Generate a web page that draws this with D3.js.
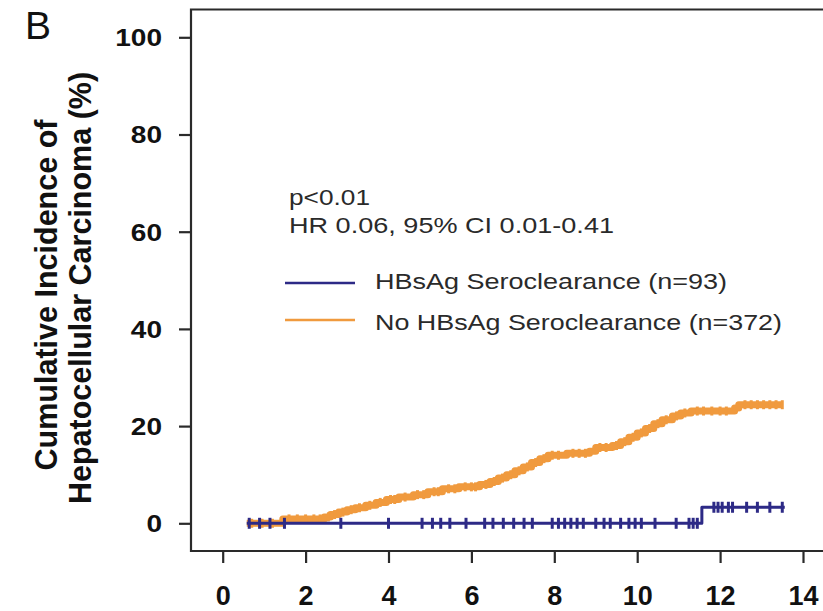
<!DOCTYPE html>
<html><head><meta charset="utf-8">
<script src="https://cdn.jsdelivr.net/npm/d3@7"></script>
<style>body{margin:0;background:#fff;} svg{display:block;font-family:"Liberation Sans",Arial,sans-serif;}</style>
</head><body>
<script>
// ---- data ----
const xTicks = [0, 2, 4, 6, 8, 10, 12, 14];
const yTicks = [0, 20, 40, 60, 80, 100];
const seriesNames = ["HBsAg Seroclearance (n=93)", "No HBsAg Seroclearance (n=372)"];
// step curve: times and cumulative incidence (%)
const clearTimes  = [0.58, 11.56, 13.56];
const clearValues = [0, 3.3, 3.3];
const clearCensor = [0.64, 0.89, 1.14, 1.49, 2.85, 4.0, 4.81, 5.06, 5.26, 5.48, 5.87, 6.32, 6.52, 6.77, 7.02, 7.27, 7.47,
  7.95, 8.1, 8.25, 8.4, 8.55, 8.7, 9.0, 9.2, 9.35, 9.6, 9.8, 9.95, 10.1, 10.43, 10.94, 11.25, 11.35, 11.45,
  11.85, 11.95, 12.05, 12.2, 12.3, 12.64, 12.9, 13.2, 13.5];
const noClearTimes  = [0.58, 1.45, 2.45, 2.6, 2.8, 3.0, 3.2, 3.45, 3.7, 3.95, 4.25, 4.6, 4.95, 5.3, 5.7, 6.2, 6.45, 6.65, 6.85,
  7.05, 7.25, 7.45, 7.65, 7.85, 8.3, 8.85, 9.0, 9.4, 9.6, 9.8, 10.0, 10.2, 10.4, 10.6, 10.85, 11.05, 11.3, 12.35, 12.45, 13.5];
const noClearValues = [0, 0.9, 1.3, 1.8, 2.3, 2.8, 3.2, 3.7, 4.3, 4.9, 5.4, 5.9, 6.5, 7.1, 7.5, 8.0, 8.6, 9.3, 10.0,
  10.8, 11.6, 12.5, 13.3, 14.0, 14.4, 14.8, 15.6, 16.0, 16.8, 17.7, 18.6, 19.5, 20.5, 21.3, 22.1, 22.7, 23.1, 23.7, 24.4, 24.4];
const noClearCensor = [0.7, 0.95, 1.2, 1.6, 1.8, 2.0, 2.2, 2.35, 2.55, 2.7, 2.9, 3.1, 3.3, 3.55, 3.8, 4.05, 4.15, 4.4, 4.7,
  4.85, 5.1, 5.2, 5.45, 5.6, 5.85, 6.0, 6.1, 6.35, 6.55, 6.75, 6.95, 7.15, 7.35, 7.55, 7.75, 7.95, 8.1, 8.45, 8.6, 8.75,
  9.1, 9.25, 9.5, 9.7, 9.9, 10.1, 10.3, 10.5, 10.7, 10.95, 11.15, 11.45, 11.6, 11.8, 12.0, 12.15, 12.6, 12.75, 12.9, 13.05, 13.2, 13.35, 13.5];
const annotation = ["p<0.01", "HR 0.06, 95% CI 0.01-0.41"];
const panelLabel = "B";
const yTitle = ["Cumulative Incidence of", "Hepatocellular Carcinoma (%)"];

// ---- layout ----
const W = 823, H = 611;
const blue = "#2d2a86", orange = "#f09a3e", axisCol = "#2a2a2a";
const svg = d3.select("body").append("svg").attr("width", W).attr("height", H);
const x = d3.scaleLinear().domain([0, 14]).range([222.7, 803]);
const y = d3.scaleLinear().domain([0, 100]).range([523.3, 37.3]);
const frame = {left: 191, top: 9.5, bottom: 551, right: 840};

// frame
svg.append("path")
  .attr("d", `M${frame.right},${frame.top}H${frame.left}V${frame.bottom}H${frame.right}`)
  .attr("fill", "none").attr("stroke", axisCol).attr("stroke-width", 2.2);

// x axis
const gx = svg.append("g").attr("transform", `translate(0,${frame.bottom})`)
  .call(d3.axisBottom(x).tickValues(xTicks).tickSize(12).tickFormat(d3.format("d")));
gx.select(".domain").remove();
gx.selectAll(".tick line").attr("stroke", axisCol).attr("stroke-width", 2.2);
gx.selectAll(".tick text").attr("y", 54).attr("dy", 0)
  .attr("font-size", 27).attr("font-weight", "bold").attr("fill", "#111")
  .attr("font-family", "'Liberation Sans', Arial, sans-serif");

// y axis
const sx = 1.22;
const gy = svg.append("g").attr("transform", `translate(${frame.left},0)`)
  .call(d3.axisLeft(y).tickValues(yTicks).tickSize(12).tickFormat(d3.format("d")));
gy.select(".domain").remove();
gy.selectAll(".tick line").attr("stroke", axisCol).attr("stroke-width", 2.2);
gy.selectAll(".tick text").attr("x", -29 / sx).attr("y", 8.3).attr("dy", 0)
  .attr("transform", `scale(${sx},1)`)
  .attr("font-size", 23).attr("font-weight", "bold").attr("fill", "#111")
  .attr("font-family", "'Liberation Sans', Arial, sans-serif");

// y title
yTitle.forEach((t, i) => {
  svg.append("text")
    .attr("transform", `translate(${i === 0 ? 57 : 91},${i === 0 ? 295 : 288}) rotate(-90)`)
    .attr("text-anchor", "middle").attr("font-size", 30.5).attr("font-weight", "bold").attr("fill", "#111")
    .text(t);
});

// panel label
svg.append("text").attr("x", 25).attr("y", 38.5).attr("font-size", 39).attr("fill", "#111").text(panelLabel);

// curves
const stepLine = d3.line().x(d => x(d[0])).y(d => y(d[1])).curve(d3.curveStepAfter);
function stepValue(times, values, t) {
  let v = values[0];
  for (let i = 0; i < times.length; i++) if (times[i] <= t) v = values[i];
  return v;
}
function drawCurve(times, values, censor, color, width, tickW, tickH) {
  const pts = times.map((t, i) => [t, values[i]]);
  svg.append("path").attr("d", stepLine(pts)).attr("fill", "none")
    .attr("stroke", color).attr("stroke-width", width).attr("stroke-linejoin", "round");
  svg.append("g").selectAll("line").data(censor).join("line")
    .attr("x1", d => x(d)).attr("x2", d => x(d))
    .attr("y1", d => y(stepValue(times, values, d)) - tickH / 2)
    .attr("y2", d => y(stepValue(times, values, d)) + tickH / 2)
    .attr("stroke", color).attr("stroke-width", tickW);
}
drawCurve(noClearTimes, noClearValues, noClearCensor, orange, 7, 3, 9);
drawCurve(clearTimes, clearValues, clearCensor, blue, 3, 3, 11);

// annotation (horizontally stretched text like the reference)
function stretchedText(tx, ty, txt, size, len) {
  svg.append("text").attr("x", tx).attr("y", ty).attr("font-size", size).attr("fill", "#2a2a2a")
    .attr("textLength", len).attr("lengthAdjust", "spacingAndGlyphs").text(txt);
}
stretchedText(289, 205, annotation[0], 22, 81);
stretchedText(289, 233, annotation[1], 22, 325);

// legend
const legendRows = [{name: seriesNames[0], color: blue, ly: 283, ty: 288.5, len: 352},
                    {name: seriesNames[1], color: orange, ly: 320, ty: 330, len: 407}];
legendRows.forEach(r => {
  svg.append("line").attr("x1", 285).attr("x2", 355).attr("y1", r.ly).attr("y2", r.ly)
    .attr("stroke", r.color).attr("stroke-width", 2.5);
  stretchedText(375, r.ty, r.name, 22, r.len);
});
</script>
</body></html>
